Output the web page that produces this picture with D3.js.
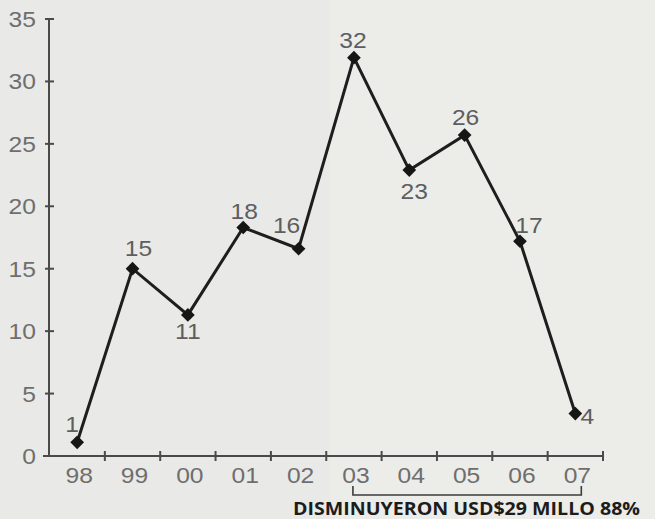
<!DOCTYPE html>
<html><head><meta charset="utf-8">
<script src="https://cdn.jsdelivr.net/npm/d3@7"></script>
<style>html,body{margin:0;padding:0;background:#e9e9e7;}svg{display:block;}</style>
</head><body>
<script>
const years = ["98","99","00","01","02","03","04","05","06","07"];
const values = [1.1, 15.0, 11.3, 18.3, 16.6, 31.9, 22.9, 25.7, 17.2, 3.4];
const labels = ["1","15","11","18","16","32","23","26","17","4"];
const yTicks = [0,5,10,15,20,25,30,35];
const note = "DISMINUYERON USD$29 MILLO 88%";

const W = 655, H = 519;
const svg = d3.select("body").append("svg").attr("width", W).attr("height", H);
svg.append("rect").attr("width", W).attr("height", H).attr("fill", "#e9e9e7");
svg.append("rect").attr("x", 330).attr("width", W-330).attr("height", H).attr("fill", "#ecece9");

const x = d3.scaleBand().domain(years).range([49.5, 603]).paddingInner(0).paddingOuter(0);
const y = d3.scaleLinear().domain([0, 35]).range([456, 19]);
const cx = d => x(d) + x.bandwidth()/2;

const axisColor = "#4a4a4a", labelColor = "#6e6e6e";
const font = "'Liberation Sans', Arial, sans-serif";
const SX = 1.12;

// Y axis
const yAxis = svg.append("g");
yAxis.append("line").attr("x1", 49).attr("x2", 49).attr("y1", y(35)).attr("y2", y(0))
  .attr("stroke", axisColor).attr("stroke-width", 2);
yAxis.selectAll("line.t").data(yTicks).enter().append("line").attr("class","t")
  .attr("x1", 45).attr("x2", 54).attr("y1", d => y(d)).attr("y2", d => y(d))
  .attr("stroke", axisColor).attr("stroke-width", 2);
yAxis.selectAll("text").data(yTicks).enter().append("text")
  .attr("transform", d => `translate(36,${y(d) + 8}) scale(${SX},1)`).attr("text-anchor", "end")
  .attr("font-family", font).attr("font-size", 22).attr("fill", labelColor)
  .text(d => d);

// X axis
const xAxis = svg.append("g");
xAxis.append("line").attr("x1", 43).attr("x2", 603).attr("y1", y(0)).attr("y2", y(0))
  .attr("stroke", axisColor).attr("stroke-width", 2);
xAxis.selectAll("line.t").data(years.slice(1).concat(["end"])).enter().append("line").attr("class","t")
  .attr("x1", (d,i) => x(years[0]) + (i+1)*x.step()).attr("x2", (d,i) => x(years[0]) + (i+1)*x.step())
  .attr("y1", y(0)-5).attr("y2", y(0)+5)
  .attr("stroke", axisColor).attr("stroke-width", 2);
xAxis.selectAll("text").data(years).enter().append("text")
  .attr("transform", d => `translate(${cx(d) + 2},483) scale(${SX},1)`).attr("text-anchor", "middle")
  .attr("font-family", font).attr("font-size", 22).attr("fill", labelColor)
  .text(d => d);

// Line
const pts = years.map((yr, i) => ({yr, v: values[i], lab: labels[i]}));
svg.append("path").datum(pts)
  .attr("d", d3.line().x(d => cx(d.yr)).y(d => y(d.v)))
  .attr("fill", "none").attr("stroke", "#1e1e1e").attr("stroke-width", 3).attr("stroke-linejoin", "miter");

// Diamonds
svg.selectAll("path.m").data(pts).enter().append("path").attr("class","m")
  .attr("d", d3.symbol().type(d3.symbolDiamond2).size(120))
  .attr("transform", d => `translate(${cx(d.yr)},${y(d.v)})`)
  .attr("fill", "#161616");

// Value labels
const offs = [[-5,-10],[6,-13],[0,24],[1,-9],[-12,-16],[-1,-10],[5,29],[1,-10],[9,-8],[12,10]];
svg.selectAll("text.v").data(pts).enter().append("text").attr("class","v")
  .attr("transform", (d,i) => `translate(${cx(d.yr) + offs[i][0]},${y(d.v) + offs[i][1]}) scale(${SX},1)`)
  .attr("text-anchor", "middle")
  .attr("font-family", font).attr("font-size", 22).attr("fill", "#5e5e5e")
  .text(d => d.lab);

// Bracket annotation
const bx1 = cx("03") - 1, bx2 = cx("07") + 6;
svg.append("path")
  .attr("d", `M${bx1},486 V495 H${bx2} V486`)
  .attr("fill", "none").attr("stroke", "#3c3c3c").attr("stroke-width", 1.6);
svg.append("text").attr("x", 293).attr("y", 515)
  .attr("font-family", "'Open Sans', 'DejaVu Sans', sans-serif").attr("font-weight", "bold")
  .attr("font-size", 17).attr("fill", "#1c1c1c")
  .attr("textLength", 347).attr("lengthAdjust", "spacingAndGlyphs")
  .text(note);
</script>
</body></html>
